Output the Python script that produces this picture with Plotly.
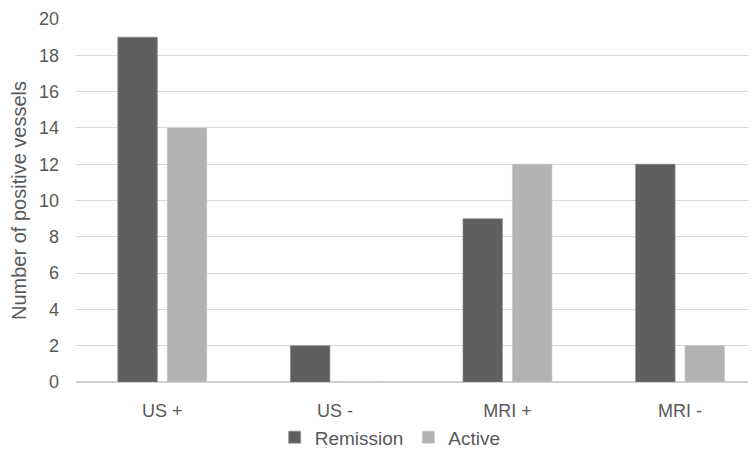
import plotly.graph_objects as go

categories = ["US +", "US -", "MRI +", "MRI -"]
remission = [19, 2, 9, 12]
active = [14, 0, 12, 2]
y_ticks = [0, 2, 4, 6, 8, 10, 12, 14, 16, 18, 20]

fig = go.Figure()
fig.add_trace(go.Bar(name="Remission", x=categories, y=remission,
                     marker=dict(color="#5f5f5f", line=dict(color="#8a8a8a", width=0.6))))
fig.add_trace(go.Bar(name="Active", x=categories, y=active,
                     marker=dict(color="#b2b2b2", line=dict(color="#c8c8c8", width=0.6))))

# page body has an 8px margin, so the figure is sized to fill the rest of the window
fig.update_layout(
    width=748, height=443,
    margin=dict(l=68, r=0, t=11, b=69, autoexpand=False),
    paper_bgcolor="white", plot_bgcolor="white",
    barmode="group", bargap=0.427, bargroupgap=0.2,
    font=dict(family="Liberation Sans, Arial, sans-serif", color="#595959", size=17),
    showlegend=True,
    legend=dict(orientation="h", xanchor="center", x=0.462, yanchor="top", y=-0.1,
                font=dict(size=19, color="#595959"), itemwidth=30, traceorder="normal"),
    xaxis=dict(range=[-0.5, 3.44], showgrid=False, showline=False, ticks="",
               automargin=False, ticklabelstandoff=16,
               tickfont=dict(size=18, color="#595959")),
    yaxis=dict(range=[0, 20], tickvals=y_ticks, showgrid=True, gridcolor="#d9d9d9",
               gridwidth=1, zeroline=True, zerolinecolor="#d0d0d0", zerolinewidth=2,
               ticks="", automargin=False, ticklabelstandoff=16,
               tickfont=dict(size=18, color="#595959")),
)
fig.update_yaxes(title=dict(text="Number of positive vessels", standoff=8,
                            font=dict(size=20, color="#595959")))

fig.write_html("out.html")
